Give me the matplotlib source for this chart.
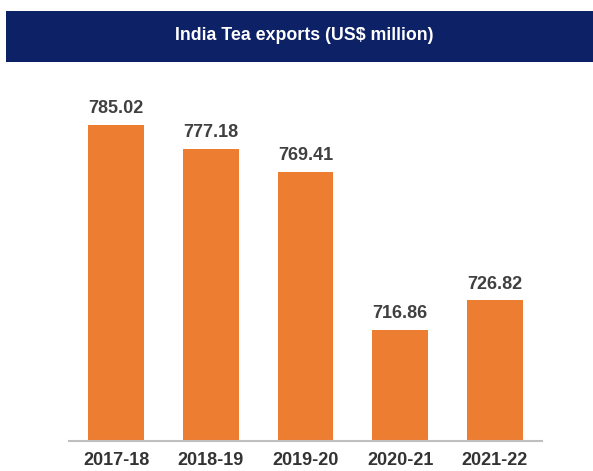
import matplotlib
matplotlib.use("Agg")
import matplotlib.pyplot as plt
from matplotlib.patches import Rectangle

plt.rcParams['font.family'] = ['Liberation Sans', 'DejaVu Sans']

# data
years = ['2017-18', '2018-19', '2019-20', '2020-21', '2021-22']
exports = [785.02, 777.18, 769.41, 716.86, 726.82]
title = 'India Tea exports (US$ million)'

W, H = 593, 471
fig = plt.figure(figsize=(W / 100, H / 100), dpi=100)

# navy title banner
fig.patches.append(Rectangle((6 / W, 1 - 62 / H), 1 - 6 / W, 51 / H,
                             transform=fig.transFigure, facecolor='#0D2167',
                             edgecolor='none', zorder=0))
fig.text(304 / W, 1 - 36 / H, title, color='white', fontsize=12.8,
         fontweight='bold', ha='center', va='center')

ax = fig.add_axes([69 / W, 1 - 441 / H, (542 - 69) / W, (441 - 80) / H])
x = range(len(years))
bars = ax.bar(x, exports, width=0.59, color='#ED7D31', zorder=2)
ax.set_xlim(-0.5, 4.5)
ax.set_ylim(680, 800)

for b, v in zip(bars, exports):
    ax.annotate(f'{v:.2f}', (b.get_x() + b.get_width() / 2, v),
                xytext=(0, 5.5), textcoords='offset points', ha='center',
                va='bottom', fontsize=13, fontweight='bold', color='#404040')

ax.set_xticks(list(x))
ax.set_xticklabels(years, fontsize=13, fontweight='bold', color='#333333')
ax.tick_params(axis='x', length=0, pad=8)
ax.set_yticks([])
for s in ['top', 'right', 'left']:
    ax.spines[s].set_visible(False)
ax.spines['bottom'].set_color('#BFBFBF')
ax.spines['bottom'].set_linewidth(1.5)

fig.savefig('out.png', dpi=100)
